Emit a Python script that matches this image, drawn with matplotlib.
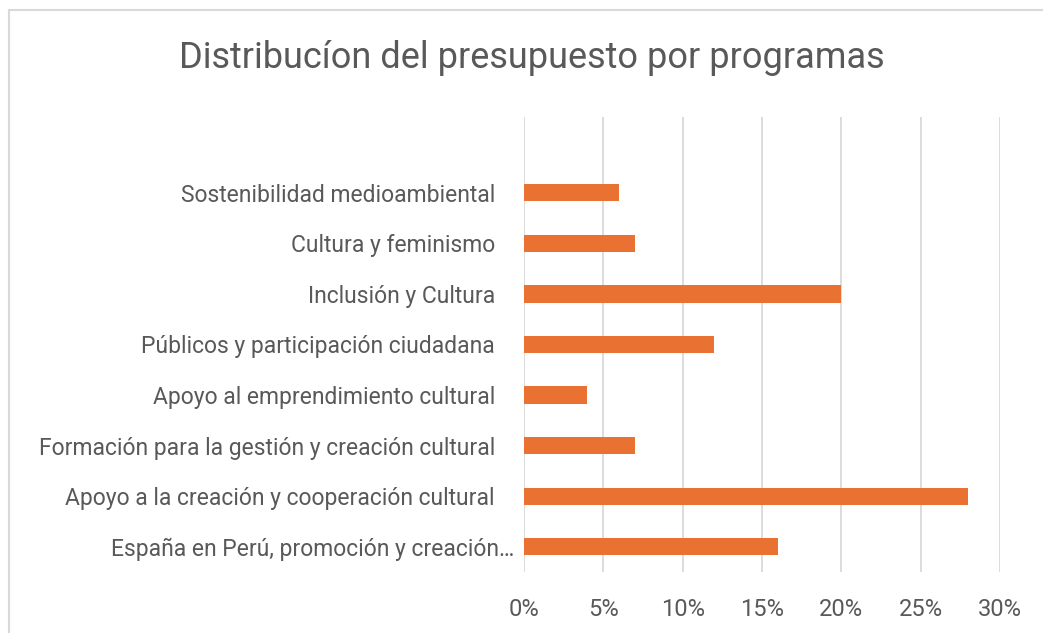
import matplotlib.pyplot as plt
from matplotlib.patches import Rectangle
from matplotlib.ticker import FuncFormatter
import matplotlib.transforms as mtransforms

# datos (de abajo hacia arriba)
programas = [
    "España en Perú, promoción y creación…",
    "Apoyo a la creación y cooperación cultural",
    "Formación para la gestión y creación cultural",
    "Apoyo al emprendimiento cultural",
    "Públicos y participación ciudadana",
    "Inclusión y Cultura",
    "Cultura y feminismo",
    "Sostenibilidad medioambiental",
]
porcentajes = [16, 28, 7, 4, 12, 20, 7, 6]
ticks_x = [0, 5, 10, 15, 20, 25, 30]

naranja = "#E97132"
gris_texto = "#595959"
gris_linea = "#D9D9D9"

plt.rcParams['font.family'] = ['Roboto', 'DejaVu Sans']

fig = plt.figure(figsize=(10.43, 6.33), dpi=100)
ax = fig.add_axes([524 / 1043, 1 - 572 / 633, 476 / 1043, 455 / 633])

# marco del area del grafico
fig.patches.append(Rectangle((9 / 1043, -0.1), 1.2, 1 - 10 / 633 + 0.1,
                             transform=fig.transFigure, fill=False,
                             edgecolor=gris_linea, linewidth=1.5))

ax.barh(range(len(programas)), porcentajes, height=0.34, color=naranja, zorder=3)

ax.set_xlim(0, 30)
ax.set_ylim(-0.5, len(programas) + 0.5)
ax.set_xticks(ticks_x)
ax.xaxis.set_major_formatter(FuncFormatter(lambda v, p: f"{int(v)}%"))
ax.set_yticks(range(len(programas)))
ax.set_yticklabels(programas)

ax.grid(axis='x', color=gris_linea, linewidth=1.3, zorder=0)
for s in ax.spines.values():
    s.set_visible(False)
ax.tick_params(axis='y', length=0, pad=21, labelsize=16.5, labelcolor=gris_texto)
ax.tick_params(axis='x', length=0, pad=19, labelsize=17, labelcolor=gris_texto)

# la etiqueta truncada llega casi hasta el eje
lbl = ax.get_yticklabels()[0]
lbl.set_transform(lbl.get_transform() + mtransforms.ScaledTranslation(0.2, 0, fig.dpi_scale_trans))

fig.text(0.51, 1 - 58 / 633, "Distribucíon del presupuesto por programas",
         ha='center', va='center', fontsize=26, color=gris_texto)

fig.savefig("out.png", dpi=100)
